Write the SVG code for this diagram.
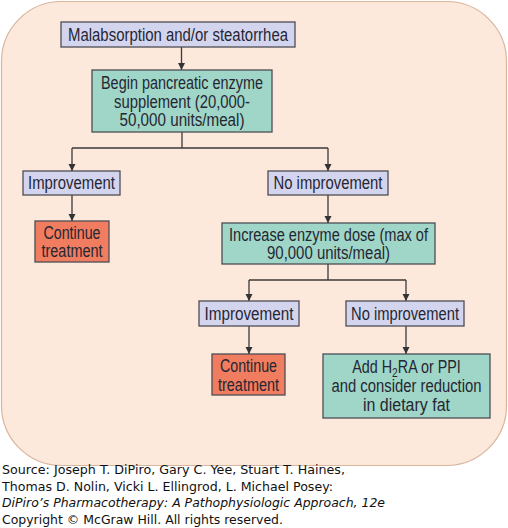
<svg xmlns="http://www.w3.org/2000/svg" width="508" height="528" viewBox="0 0 508 528">
<style>
.n text{font-family:"Liberation Sans",Arial,sans-serif;font-size:17.5px;fill:#262633;text-anchor:middle}
.lav{fill:#d3d5ee;stroke:#4d4d55;stroke-width:1.3}
.grn{fill:#9fd6c7;stroke:#4d4d55;stroke-width:1.3}
.org{fill:#f07d5f;stroke:#4d4d55;stroke-width:1.3}
.c path{fill:none;stroke:#3a3a3a;stroke-width:1.3}
.cap{font-family:"DejaVu Sans",Verdana,sans-serif;font-size:11.5px;fill:#111}
</style>
<defs>
<marker id="ah" viewBox="0 0 10 10" refX="10" refY="5" markerWidth="7" markerHeight="9" markerUnits="userSpaceOnUse" orient="auto">
<path d="M0,0 L10,5 L0,10 z" fill="#333"/>
</marker>
</defs>
<rect x="1.5" y="1.5" width="505" height="464" rx="60" fill="#fde8dc" stroke="#d9b59c" stroke-width="1.2"/>
<g class="c">
<path d="M181.5,47 V70" marker-end="url(#ah)"/>
<path d="M182,132 V148"/>
<path d="M72,148 H328"/>
<path d="M72,148 V171" marker-end="url(#ah)"/>
<path d="M328,148 V171" marker-end="url(#ah)"/>
<path d="M72,195 V221" marker-end="url(#ah)"/>
<path d="M328,195 V223" marker-end="url(#ah)"/>
<path d="M328,264 V280"/>
<path d="M249,280 H406"/>
<path d="M249,280 V301" marker-end="url(#ah)"/>
<path d="M406,280 V301" marker-end="url(#ah)"/>
<path d="M249,326 V354" marker-end="url(#ah)"/>
<path d="M406,326 V354" marker-end="url(#ah)"/>
</g>
<g id="n1" class="n">
<rect class="lav" x="61" y="22" width="234" height="25"/>
<text x="178" y="40.5" textLength="220" lengthAdjust="spacingAndGlyphs">Malabsorption and/or steatorrhea</text>
</g>
<g id="n2" class="n">
<rect class="grn" x="92" y="70" width="180" height="62"/>
<text x="182" y="89" textLength="162" lengthAdjust="spacingAndGlyphs">Begin pancreatic enzyme</text>
<text x="182" y="107.5" textLength="136" lengthAdjust="spacingAndGlyphs">supplement (20,000-</text>
<text x="182" y="126" textLength="125" lengthAdjust="spacingAndGlyphs">50,000 units/meal)</text>
</g>
<g id="n3" class="n">
<rect class="lav" x="23" y="171" width="97" height="24"/>
<text x="71.5" y="189" textLength="87" lengthAdjust="spacingAndGlyphs">Improvement</text>
</g>
<g id="n4" class="n">
<rect class="lav" x="268" y="171" width="120" height="24"/>
<text x="328" y="189" textLength="109" lengthAdjust="spacingAndGlyphs">No improvement</text>
</g>
<g id="n5" class="n">
<rect class="org" x="35" y="221" width="74" height="41"/>
<text x="72" y="238.5" textLength="57" lengthAdjust="spacingAndGlyphs">Continue</text>
<text x="72" y="257" textLength="61" lengthAdjust="spacingAndGlyphs">treatment</text>
</g>
<g id="n6" class="n">
<rect class="grn" x="222" y="223" width="213" height="41"/>
<text x="328.5" y="240.5" textLength="199" lengthAdjust="spacingAndGlyphs">Increase enzyme dose (max of</text>
<text x="328.5" y="259" textLength="123" lengthAdjust="spacingAndGlyphs">90,000 units/meal)</text>
</g>
<g id="n7" class="n">
<rect class="lav" x="199" y="301" width="100" height="25"/>
<text x="249" y="319.5" textLength="89" lengthAdjust="spacingAndGlyphs">Improvement</text>
</g>
<g id="n8" class="n">
<rect class="lav" x="346" y="301" width="118" height="25"/>
<text x="405" y="319.5" textLength="108" lengthAdjust="spacingAndGlyphs">No improvement</text>
</g>
<g id="n9" class="n">
<rect class="org" x="212" y="354" width="73" height="41"/>
<text x="248.5" y="372" textLength="57" lengthAdjust="spacingAndGlyphs">Continue</text>
<text x="248.5" y="390.5" textLength="61" lengthAdjust="spacingAndGlyphs">treatment</text>
</g>
<g id="n10" class="n">
<rect class="grn" x="323" y="354" width="167" height="64"/>
<text transform="translate(406.5,373) scale(0.82,1)" x="0" y="0">Add H<tspan font-size="12.5" dy="4">2</tspan><tspan dy="-4">RA or PPI</tspan></text>
<text x="406.5" y="392" textLength="150" lengthAdjust="spacingAndGlyphs">and consider reduction</text>
<text x="406.5" y="411" textLength="87" lengthAdjust="spacingAndGlyphs">in dietary fat</text>
</g>
<g class="cap">
<text x="2" y="474" textLength="343" lengthAdjust="spacingAndGlyphs">Source: Joseph T. DiPiro, Gary C. Yee, Stuart T. Haines,</text>
<text x="2" y="490.5" textLength="331" lengthAdjust="spacingAndGlyphs">Thomas D. Nolin, Vicki L. Ellingrod, L. Michael Posey:</text>
<text x="2" y="507" font-style="italic" textLength="383" lengthAdjust="spacingAndGlyphs">DiPiro’s Pharmacotherapy: A Pathophysiologic Approach, 12e</text>
<text x="2" y="523.5" textLength="281" lengthAdjust="spacingAndGlyphs">Copyright © McGraw Hill. All rights reserved.</text>
</g>
</svg>
